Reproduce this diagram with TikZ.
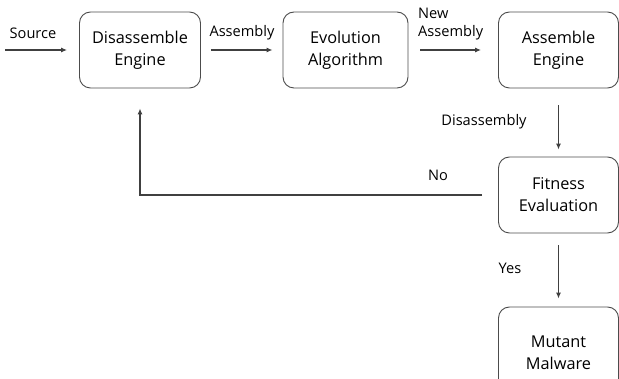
\documentclass[tikz,border=0pt]{standalone}
\usepackage{fontspec}
\setmainfont{Open Sans}
\usetikzlibrary{arrows.meta}
\begin{document}
\begin{tikzpicture}[x=1pt,y=-1pt,
  box/.style={draw=black!70,line width=0.9pt,rounded corners=11pt,minimum width=121pt,minimum height=76pt,align=center,font=\fontsize{16.3}{22}\selectfont,inner sep=0pt},
  lbl/.style={font=\fontsize{14.6}{18}\selectfont,inner sep=0pt},
  conn/.style={draw=black!75,line width=1.1pt,-{Latex[length=6pt,width=5pt]}}]
\clip (0,0) rectangle (619,379);
\useasboundingbox (0,0) rectangle (619,379);
\node[box] (de) at (140,50) {Disassemble\\Engine};
\node[box,minimum width=125pt] (ea) at (345.5,50) {Evolution\\Algorithm};
\node[box,minimum width=120pt] (ae) at (558.5,50) {Assemble\\Engine};
\node[box,minimum width=120pt] (fe) at (558.5,195) {Fitness\\Evaluation};
\node[box,minimum width=120pt,minimum height=92pt] (mm) at (558.5,353) {Mutant\\Malware};
\coordinate (src) at (5,50);
\draw[conn,shorten >=12pt] (src) -- (de);
\draw[conn,shorten <=10pt,shorten >=10pt] (de) -- (ea);
\draw[conn,shorten <=12pt,shorten >=17pt] (ea) -- (ae);
\draw[conn,shorten <=17pt,shorten >=7pt] (ae) -- (fe);
\draw[conn,shorten <=12pt,shorten >=8pt] (fe) -- (mm);
\draw[conn,shorten <=16pt,shorten >=20pt] (fe.west) -- (de.south |- fe.west) -- (de.south);
\node[lbl] (lsrc) at (33,33) {Source};
\node[lbl] (lasm) at (242,33) {Assembly};
\node[lbl,align=left,anchor=west] (lnew) at (418,24) {New\\Assembly};
\node[lbl] (ldis) at (484,122) {Disassembly};
\node[lbl] (lno) at (438,175) {No};
\node[lbl] (lyes) at (510,268) {Yes};
\end{tikzpicture}
\end{document}
